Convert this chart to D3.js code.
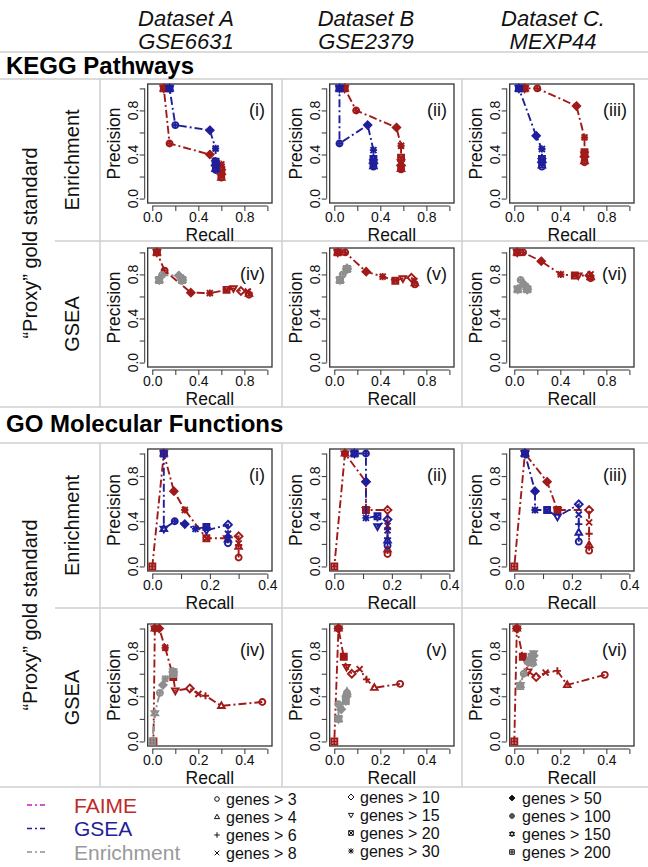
<!DOCTYPE html>
<html><head><meta charset="utf-8">
<script src="https://cdn.jsdelivr.net/npm/d3@7"></script>
<style>body{margin:0;background:#fff}svg{display:block;font-family:"Liberation Sans",Arial,sans-serif}</style>
</head><body><svg id="c" width="648" height="867"></svg>
<script>
// ---------- labels ----------
const datasetNames = ["Dataset A", "Dataset B", "Dataset C."];
const accessions = ["GSE6631", "GSE2379", "MEXP44"];
const sectionTitles = ["KEGG Pathways", "GO Molecular Functions"];
const rowLabels = ["Enrichment", "GSEA"];
const proxyLabel = "\u201CProxy\u201D gold standard";
const panelTags = ["(i)", "(ii)", "(iii)", "(iv)", "(v)", "(vi)"];
const thresholds = ["genes > 3","genes > 4","genes > 6","genes > 8","genes > 10","genes > 15","genes > 20","genes > 30","genes > 50","genes > 100","genes > 150","genes > 200"];
const methodNames = ["FAIME", "GSEA", "Enrichment"];
const yTicks = [0, 0.2, 0.4, 0.6, 0.8, 1.0];
const yTickLabels = [0, 0.4, 0.8];
const keggXTicks = [0, 0.2, 0.4, 0.6, 0.8, 1.0];
const keggXLabels = [0, 0.4, 0.8];
const goEnrXTicks = [0, 0.1, 0.2, 0.3, 0.4];
const goGseaXTicks = [0, 0.1, 0.2, 0.3, 0.4, 0.5];
const goXLabels = [0, 0.2, 0.4];

// ---------- data: [recall, precision], thresholds 3,4,6,8,10,15,20,30,50,100,150,200 ----------
const keggEnrA_FAIME = [[0.6,0.19],[0.6,0.19],[0.6,0.2],[0.6,0.21],[0.6,0.22],[0.6,0.24],[0.6,0.26],[0.6,0.31],[0.5,0.40],[0.15,0.50],[0.1,1.0],[0.1,1.0]];
const keggEnrA_GSEA  = [[0.55,0.26],[0.55,0.27],[0.55,0.28],[0.55,0.29],[0.55,0.30],[0.55,0.32],[0.55,0.335],[0.55,0.455],[0.5,0.62],[0.2,0.667],[0.15,1.0],[0.15,1.0]];
const keggEnrB_FAIME = [[0.58,0.265],[0.58,0.27],[0.58,0.28],[0.58,0.285],[0.58,0.30],[0.58,0.33],[0.58,0.37],[0.58,0.48],[0.54,0.645],[0.19,0.80],[0.09,1.0],[0.09,1.0]];
const keggEnrB_GSEA  = [[0.34,0.29],[0.34,0.295],[0.34,0.30],[0.34,0.31],[0.34,0.32],[0.34,0.33],[0.34,0.36],[0.34,0.44],[0.29,0.667],[0.045,0.5],[0.045,1.0],[0.045,1.0]];
const keggEnrC_FAIME = [[0.61,0.33],[0.61,0.34],[0.61,0.35],[0.61,0.36],[0.61,0.38],[0.61,0.40],[0.61,0.42],[0.61,0.555],[0.54,0.84],[0.2,1.0],[0.09,1.0],[0.09,1.0]];
const keggEnrC_GSEA  = [[0.24,0.29],[0.24,0.30],[0.24,0.31],[0.24,0.32],[0.24,0.33],[0.24,0.34],[0.24,0.36],[0.24,0.45],[0.19,0.57],[0.04,1.0],[0.04,1.0],[0.04,1.0]];
const keggGseaA_FAIME = [[0.84,0.615],[0.84,0.625],[0.84,0.635],[0.83,0.645],[0.77,0.65],[0.705,0.675],[0.645,0.66],[0.5,0.63],[0.335,0.635],[0.107,0.835],[0.04,1.0],[0.04,1.0]];
const keggGseaA_Enr   = [[0.26,0.75],[0.26,0.75],[0.26,0.75],[0.26,0.75],[0.26,0.75],[0.26,0.75],[0.26,0.75],[0.25,0.77],[0.23,0.79],[0.085,0.795],[0.06,0.75],[0.06,0.75]];
const keggGseaB_FAIME = [[0.70,0.71],[0.70,0.72],[0.696,0.73],[0.696,0.74],[0.67,0.77],[0.596,0.764],[0.53,0.743],[0.42,0.78],[0.277,0.825],[0.094,1.0],[0.03,1.0],[0.03,1.0]];
const keggGseaB_Enr   = [[0.11,0.85],[0.11,0.85],[0.11,0.85],[0.11,0.85],[0.11,0.85],[0.11,0.85],[0.11,0.85],[0.11,0.85],[0.11,0.855],[0.073,0.80],[0.05,0.75],[0.05,0.75]];
const keggGseaC_FAIME = [[0.663,0.765],[0.663,0.775],[0.663,0.785],[0.663,0.80],[0.653,0.79],[0.556,0.79],[0.526,0.79],[0.404,0.80],[0.234,0.92],[0.076,1.0],[0.025,1.0],[0.025,1.0]];
const keggGseaC_Enr   = [[0.112,0.665],[0.112,0.665],[0.112,0.665],[0.112,0.665],[0.112,0.665],[0.112,0.665],[0.112,0.665],[0.1,0.69],[0.085,0.71],[0.055,0.75],[0.03,0.665],[0.03,0.665]];
const goEnrA_FAIME = [[0.3,0.08],[0.3,0.175],[0.3,0.19],[0.3,0.205],[0.3,0.267],[0.26,0.25],[0.188,0.25],[0.113,0.5],[0.075,0.667],[0.04,1.0],[0.04,1.0],[0.0,0.0]];
const goEnrA_GSEA  = [[0.263,0.205],[0.263,0.24],[0.263,0.26],[0.263,0.29],[0.263,0.37],[0.188,0.32],[0.188,0.35],[0.15,0.333],[0.113,0.375],[0.078,0.4],[0.04,0.333],[0.04,1.0]];
const goEnrB_FAIME = [[0.185,0.11],[0.185,0.15],[0.185,0.33],[0.185,0.36],[0.185,0.5],[0.11,0.5],[0.11,0.5],[0.11,0.5],[0.11,0.75],[0.037,1.0],[0.037,1.0],[0.0,0.0]];
const goEnrB_GSEA  = [[0.185,0.185],[0.185,0.23],[0.185,0.25],[0.185,0.32],[0.185,0.415],[0.15,0.355],[0.15,0.445],[0.11,0.43],[0.11,0.75],[0.11,1.0],[0.07,1.0],[0.07,1.0]];
const goEnrC_FAIME = [[0.26,0.14],[0.26,0.19],[0.26,0.29],[0.26,0.39],[0.26,0.5],[0.15,0.5],[0.15,0.5],[0.15,0.5],[0.114,0.75],[0.037,1.0],[0.037,1.0],[0.0,0.0]];
const goEnrC_GSEA  = [[0.224,0.22],[0.224,0.30],[0.224,0.375],[0.224,0.46],[0.224,0.55],[0.15,0.44],[0.114,0.5],[0.072,0.5],[0.072,0.667],[0.037,1.0],[0.037,1.0],[0.037,1.0]];
const goGseaA_FAIME = [[0.478,0.35],[0.30,0.315],[0.231,0.405],[0.2,0.42],[0.163,0.47],[0.10,0.45],[0.091,0.57],[0.056,0.83],[0.03,1.0],[0.011,1.0],[0.011,1.0],[0.005,0.0]];
const goGseaA_Enr   = [[0.091,0.60],[0.091,0.61],[0.091,0.62],[0.091,0.62],[0.091,0.615],[0.091,0.62],[0.091,0.60],[0.056,0.555],[0.046,0.5],[0.033,0.43],[0.011,0.25],[0.0,0.0]];
const goGseaB_FAIME = [[0.286,0.51],[0.174,0.475],[0.14,0.55],[0.11,0.64],[0.076,0.6],[0.053,0.66],[0.041,0.75],[0.041,0.75],[0.018,1.0],[0.018,1.0],[0.018,1.0],[0.0,0.0]];
const goGseaB_Enr   = [[0.055,0.43],[0.055,0.44],[0.055,0.42],[0.053,0.41],[0.053,0.40],[0.053,0.38],[0.05,0.36],[0.05,0.35],[0.03,0.285],[0.018,0.33],[0.018,0.2],[0.018,0.2]];
const goGseaC_FAIME = [[0.393,0.59],[0.23,0.50],[0.187,0.625],[0.136,0.61],[0.095,0.57],[0.06,0.62],[0.037,0.75],[0.037,0.75],[0.011,1.0],[0.011,1.0],[0.011,1.0],[0.0,0.0]];
const goGseaC_Enr   = [[0.08,0.69],[0.08,0.70],[0.084,0.72],[0.084,0.74],[0.084,0.76],[0.084,0.78],[0.075,0.75],[0.067,0.72],[0.06,0.70],[0.041,0.6],[0.026,0.5],[0.026,0.49]];

// ---------- styling ----------
const colors = {FAIME:"#A11A1A", GSEA:"#1F1F9C", Enrichment:"#8E8E8E"};
const legendLineColors = ["#C21BC2", "#1F1F9C", "#8E8E8E"];
const legendTextColors = ["#C22A2A", "#1F1F9C", "#999999"];
const pchTypes = ["o","tri","plus","x","dia","tridown","sqx","ast","fdia","oplus","david","sqplus"];

const svg = d3.select("#c");
const FONT = "'Liberation Sans', Arial, sans-serif";
const colSep = [100, 282, 462];
const rowBox = [[84, 203], [248, 367], [449, 571], [624, 746]];
const gridColor = "#cfcfcf";

function markerPath(t, r) {
  const c = `M${-r},0a${r},${r} 0 1,0 ${2*r},0a${r},${r} 0 1,0 ${-2*r},0`;
  const tri = `M0,${-r*1.2}L${r*1.1},${r*0.7}L${-r*1.1},${r*0.7}Z`;
  const trid = `M0,${r*1.2}L${r*1.1},${-r*0.7}L${-r*1.1},${-r*0.7}Z`;
  const plus = `M${-r*1.2},0H${r*1.2}M0,${-r*1.2}V${r*1.2}`;
  const x = `M${-r},${-r}L${r},${r}M${-r},${r}L${r},${-r}`;
  const dia = `M0,${-r*1.3}L${r*1.3},0L0,${r*1.3}L${-r*1.3},0Z`;
  const sq = `M${-r},${-r}H${r}V${r}H${-r}Z`;
  switch (t) {
    case "o": return c;
    case "tri": return tri;
    case "plus": return plus;
    case "x": return x;
    case "dia": return dia;
    case "tridown": return trid;
    case "sqx": return sq + x;
    case "ast": return plus + x;
    case "fdia": return `M0,${-r*1.25}L${r*1.25},0L0,${r*1.25}L${-r*1.25},0Z`;
    case "oplus": return c + `M${-r},0H${r}M0,${-r}V${r}`;
    case "david": return tri + trid;
    case "sqplus": return sq + `M${-r},0H${r}M0,${-r}V${r}`;
  }
}

// ---------- grid lines ----------
function hline(y, x1, x2) { svg.append("line").attr("x1",x1).attr("x2",x2).attr("y1",y).attr("y2",y).attr("stroke",gridColor).attr("stroke-width",1.5); }
function vline(x, y1, y2) { svg.append("line").attr("x1",x).attr("x2",x).attr("y1",y1).attr("y2",y2).attr("stroke",gridColor).attr("stroke-width",1.5); }
hline(52, 0, 648); hline(79, 0, 648); hline(241, 55, 648); hline(407, 0, 648);
hline(443, 0, 648); hline(608, 55, 648); hline(787, 0, 648);
colSep.forEach(x => { vline(x, 79, 407); vline(x, 443, 787); });

// ---------- header ----------
const headerX = [186, 366, 553];
datasetNames.forEach((d, i) => {
  svg.append("text").attr("x", headerX[i]).attr("y", 26).attr("text-anchor","middle").attr("font-style","italic").attr("font-size",22).attr("fill","#111").text(d);
  svg.append("text").attr("x", headerX[i]).attr("y", 49).attr("text-anchor","middle").attr("font-style","italic").attr("font-size",22).attr("fill","#111").text(accessions[i]);
});
svg.append("text").attr("x", 6).attr("y", 74).attr("font-weight","bold").attr("font-size",24).attr("fill","#000").text(sectionTitles[0]);
svg.append("text").attr("x", 6).attr("y", 432).attr("font-weight","bold").attr("font-size",24).attr("fill","#000").text(sectionTitles[1]);

// row labels
[[79, 407], [443, 787]].forEach(([a, b]) => {
  svg.append("text").attr("transform", `translate(37,${(a + b) / 2}) rotate(-90)`).attr("text-anchor","middle").attr("font-size",20).attr("fill","#111").text(proxyLabel);
});
[[79, 241], [241, 407], [443, 608], [608, 787]].forEach(([a, b], r) => {
  svg.append("text").attr("transform", `translate(79,${(a + b) / 2}) rotate(-90)`).attr("text-anchor","middle").attr("font-size",20).attr("fill","#111").text(rowLabels[r % 2]);
});

// ---------- panels ----------
const panels = [
  {r:0,c:0,tag:0,xmax:1,  xt:keggXTicks,  xl:keggXLabels, s:[[keggEnrA_FAIME,"FAIME"],[keggEnrA_GSEA,"GSEA"]]},
  {r:0,c:1,tag:1,xmax:1,  xt:keggXTicks,  xl:keggXLabels, s:[[keggEnrB_FAIME,"FAIME"],[keggEnrB_GSEA,"GSEA"]]},
  {r:0,c:2,tag:2,xmax:1,  xt:keggXTicks,  xl:keggXLabels, s:[[keggEnrC_FAIME,"FAIME"],[keggEnrC_GSEA,"GSEA"]]},
  {r:1,c:0,tag:3,xmax:1,  xt:keggXTicks,  xl:keggXLabels, s:[[keggGseaA_FAIME,"FAIME"],[keggGseaA_Enr,"Enrichment"]]},
  {r:1,c:1,tag:4,xmax:1,  xt:keggXTicks,  xl:keggXLabels, s:[[keggGseaB_FAIME,"FAIME"],[keggGseaB_Enr,"Enrichment"]]},
  {r:1,c:2,tag:5,xmax:1,  xt:keggXTicks,  xl:keggXLabels, s:[[keggGseaC_FAIME,"FAIME"],[keggGseaC_Enr,"Enrichment"]]},
  {r:2,c:0,tag:0,xmax:0.4,xt:goEnrXTicks, xl:goXLabels,   s:[[goEnrA_FAIME,"FAIME"],[goEnrA_GSEA,"GSEA"]]},
  {r:2,c:1,tag:1,xmax:0.4,xt:goEnrXTicks, xl:goXLabels,   s:[[goEnrB_FAIME,"FAIME"],[goEnrB_GSEA,"GSEA"]]},
  {r:2,c:2,tag:2,xmax:0.4,xt:goEnrXTicks, xl:goXLabels,   s:[[goEnrC_FAIME,"FAIME"],[goEnrC_GSEA,"GSEA"]]},
  {r:3,c:0,tag:3,xmax:0.5,xt:goGseaXTicks,xl:goXLabels,   s:[[goGseaA_FAIME,"FAIME"],[goGseaA_Enr,"Enrichment"]]},
  {r:3,c:1,tag:4,xmax:0.5,xt:goGseaXTicks,xl:goXLabels,   s:[[goGseaB_FAIME,"FAIME"],[goGseaB_Enr,"Enrichment"]]},
  {r:3,c:2,tag:5,xmax:0.5,xt:goGseaXTicks,xl:goXLabels,   s:[[goGseaC_FAIME,"FAIME"],[goGseaC_Enr,"Enrichment"]]}
];

const fmt = d3.format(".1f");
panels.forEach(p => {
  const o = colSep[p.c];
  const L = o + 47.7, R = o + 172, Tp = rowBox[p.r][0], B = rowBox[p.r][1];
  const x = d3.scaleLinear().domain([-0.04*p.xmax, 1.04*p.xmax]).range([L, R]);
  const y = d3.scaleLinear().domain([-0.04, 1.04]).range([B, Tp]);
  const g = svg.append("g");

  // x axis
  const xa = g.append("g").attr("transform", `translate(0,${B + 3})`)
    .call(d3.axisBottom(x).tickValues(p.xt).tickSize(5).tickSizeOuter(0).tickFormat(d => p.xl.some(v => Math.abs(v - d) < 1e-9) ? fmt(d) : ""));
  xa.select(".domain").remove();
  xa.append("line").attr("x1", x(p.xt[0])).attr("x2", x(p.xt[p.xt.length-1])).attr("stroke","#333");
  xa.selectAll(".tick line").attr("stroke","#333");
  xa.selectAll(".tick text").attr("font-size",14).attr("font-family",FONT).attr("fill","#111").attr("y",6).attr("dy","0.71em");

  // y axis
  const ya = g.append("g").attr("transform", `translate(${L - 3},0)`)
    .call(d3.axisLeft(y).tickValues(yTicks).tickSize(5).tickSizeOuter(0).tickFormat(""));
  ya.select(".domain").remove();
  ya.append("line").attr("y1", y(0)).attr("y2", y(1)).attr("stroke","#333");
  ya.selectAll(".tick line").attr("stroke","#333");
  yTickLabels.forEach(v => {
    g.append("text").attr("transform", `translate(${L - 10},${y(v)}) rotate(-90)`).attr("text-anchor","middle")
      .attr("font-size",14).attr("fill","#111").text(fmt(v));
  });

  // axis titles
  g.append("text").attr("x", (L + R) / 2).attr("y", B + 38).attr("text-anchor","middle").attr("font-size",17.5).attr("fill","#111").text("Recall");
  g.append("text").attr("transform", `translate(${L - 28},${(Tp + B) / 2}) rotate(-90)`).attr("text-anchor","middle").attr("font-size",17.5).attr("fill","#111").text("Precision");

  // box
  g.append("rect").attr("x", L).attr("y", Tp).attr("width", R - L).attr("height", B - Tp).attr("fill","none").attr("stroke","#333").attr("stroke-width",1.3);

  // tag
  g.append("text").attr("x", R - 7).attr("y", Tp + 32).attr("text-anchor","end").attr("font-size",18).attr("fill","#111").text(panelTags[p.tag]);

  // series
  const line = d3.line().x(d => x(d[0])).y(d => y(d[1]));
  p.s.forEach(([pts, m]) => {
    const col = colors[m];
    g.append("path").attr("d", line(pts)).attr("fill","none").attr("stroke", col).attr("stroke-width",1.9).attr("stroke-dasharray","8,3,2,3");
    g.selectAll(null).data(pts).join("path")
      .attr("transform", d => `translate(${x(d[0])},${y(d[1])})`)
      .attr("d", (d, i) => markerPath(pchTypes[i], 3))
      .attr("fill", (d, i) => pchTypes[i] === "fdia" ? col : "none")
      .attr("stroke", col).attr("stroke-width",1.9);
  });
});

// ---------- legend ----------
const legY = [805, 828.5, 852];
methodNames.forEach((m, i) => {
  svg.append("line").attr("x1",27).attr("x2",48).attr("y1",legY[i]).attr("y2",legY[i])
    .attr("stroke",legendLineColors[i]).attr("stroke-width",1.6).attr("stroke-dasharray","5,3,2,3");
  svg.append("text").attr("x",74).attr("y",legY[i]+7.5).attr("font-size",21).attr("fill",legendTextColors[i]).text(m);
});
const legCols = [{mx:217, tx:226, y0:799}, {mx:351, tx:360, y0:797}, {mx:512, tx:522, y0:798}];
thresholds.forEach((t, i) => {
  const c = legCols[Math.floor(i / 4)], k = i % 4;
  const yy = c.y0 + k * 18;
  svg.append("path").attr("transform", `translate(${c.mx},${yy})`).attr("d", markerPath(pchTypes[i], 2.3))
    .attr("fill", pchTypes[i] === "fdia" ? "#111" : "none").attr("stroke","#111").attr("stroke-width",1);
  svg.append("text").attr("x", c.tx).attr("y", yy + 6).attr("font-size",16).attr("fill","#111").text(t);
});
</script></body></html>
